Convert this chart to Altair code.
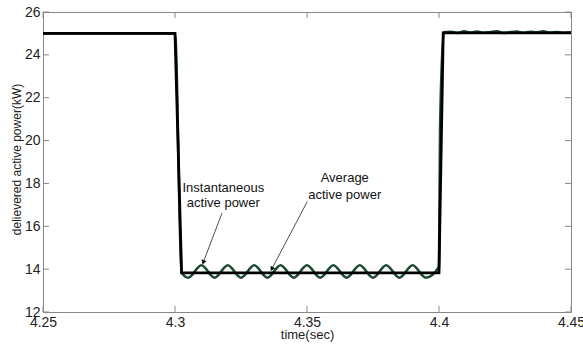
import altair as alt
import pandas as pd

# x/y axis tick values
x_ticks = [4.25, 4.30, 4.35, 4.40, 4.45]
y_ticks = [12, 14, 16, 18, 20, 22, 24, 26]

# Average active power (black)
avg_t = [4.25, 4.30, 4.3025, 4.40, 4.4016, 4.45]
avg_p = [25.0, 25.0, 13.83, 13.83, 25.03, 25.03]

# Instantaneous active power (dark green), read peak/trough points
inst_t = [4.25, 4.30, 4.3025, 4.305, 4.31, 4.315, 4.32, 4.325, 4.33, 4.335, 4.34,
          4.345, 4.35, 4.355, 4.36, 4.365, 4.37, 4.375, 4.38, 4.385, 4.39, 4.395,
          4.40, 4.4004, 4.4018, 4.4045, 4.407, 4.4095, 4.412, 4.4145, 4.417, 4.4195,
          4.422, 4.4245, 4.427, 4.4295, 4.432, 4.4345, 4.437, 4.4395, 4.442, 4.4445,
          4.447, 4.45]
inst_p = [25.0, 25.0, 13.85, 13.60, 14.18, 13.60, 14.18, 13.60, 14.18, 13.60, 14.18,
          13.60, 14.18, 13.60, 14.18, 13.60, 14.18, 13.60, 14.18, 13.60, 14.18, 13.60,
          14.12, 20.5, 25.05, 25.08, 25.02, 25.10, 25.04, 25.09, 25.03, 25.07,
          25.10, 25.02, 25.06, 25.09, 25.03, 25.08, 25.05, 25.10, 25.04, 25.07,
          25.03, 25.05]

# annotation texts
ann_text = ["Instantaneous", "active power", "Average", "active power"]
ann_t = [4.3183, 4.3183, 4.3643, 4.3643]
ann_p = [17.60, 16.90, 18.05, 17.27]

# annotation arrows (start -> end)
arr1_t = [4.3178, 4.3108]
arr1_p = [16.61, 14.35]
arr2_t = [4.3501, 4.3368]
arr2_p = [17.15, 14.04]

W, H = 528, 300
FONT = "Liberation Sans"
xs = alt.Scale(domain=[4.25, 4.45], nice=False, zero=False)
ys = alt.Scale(domain=[12, 26], nice=False, zero=False)

inst_df = pd.DataFrame({"t": inst_t, "p": inst_p})
avg_df = pd.DataFrame({"t": avg_t, "p": avg_p})

x_axis = alt.Axis(values=x_ticks, format="~g", title="time(sec)", ticks=False, domain=False,
                  grid=False, labelFont=FONT, labelFontSize=14, labelColor="#222",
                  labelFlush=False, labelOverlap=False, labelPadding=3,
                  titleFont=FONT, titleFontSize=13, titleFontWeight="normal", titleColor="#222",
                  titleBaseline="alphabetic", titleY=26)
y_axis = alt.Axis(values=y_ticks, format="d", title="delievered active power(kW)", ticks=False,
                  domain=False, grid=False, labelFont=FONT, labelFontSize=14, labelColor="#222",
                  labelFlush=False, labelOverlap=False, labelPadding=3,
                  titleFont=FONT, titleFontSize=12, titleFontWeight="normal", titleColor="#222",
                  titleX=-20, titleY=147)


def X(f):
    return alt.X(f, type="quantitative", scale=xs, axis=x_axis)


def Y(f):
    return alt.Y(f, type="quantitative", scale=ys, axis=y_axis)


inst = alt.Chart(inst_df).mark_line(color="#1e4a34", strokeWidth=2.6, interpolate="monotone").encode(
    x=X("t"), y=Y("p"))
avg = alt.Chart(avg_df).mark_line(color="black", strokeWidth=2.8).encode(
    x=X("t"), y=Y("p"))

xt_df = pd.DataFrame({"v": x_ticks})
yt_df = pd.DataFrame({"v": y_ticks})
tick_color = "#888"
xb = alt.Chart(xt_df).mark_rule(color=tick_color, strokeWidth=1).encode(
    x=X("v"), y=alt.value(H), y2=alt.value(H - 6))
xtop = alt.Chart(xt_df).mark_rule(color=tick_color, strokeWidth=1).encode(
    x=X("v"), y=alt.value(0), y2=alt.value(6))
yl = alt.Chart(yt_df).mark_rule(color=tick_color, strokeWidth=1).encode(
    y=Y("v"), x=alt.value(0), x2=alt.value(6))
yr = alt.Chart(yt_df).mark_rule(color=tick_color, strokeWidth=1).encode(
    y=Y("v"), x=alt.value(W), x2=alt.value(W - 6))

ann_df = pd.DataFrame({"text": ann_text, "t": ann_t, "p": ann_p})
texts = alt.Chart(ann_df).mark_text(font=FONT, fontSize=13, color="#111", align="center",
                                    baseline="alphabetic").encode(
    x=X("t"), y=Y("p"), text="text:N")


def arrow(ts, ps, ang):
    df = pd.DataFrame({"t": [ts[0]], "p": [ps[0]], "t2": [ts[1]], "p2": [ps[1]]})
    line = alt.Chart(df).mark_rule(color="#222", strokeWidth=0.8).encode(
        x=X("t"), y=Y("p"), x2="t2:Q", y2="p2:Q")
    head = alt.Chart(df).mark_point(shape="triangle", filled=True, color="#111", size=28,
                                    opacity=1, angle=ang).encode(
        x=X("t2"), y=Y("p2"))
    return line + head


chart = alt.layer(
    inst, avg, xb, xtop, yl, yr, texts,
    arrow(arr1_t, arr1_p, 201), arrow(arr2_t, arr2_p, 208)
).properties(
    width=W, height=H,
    autosize=alt.AutoSizeParams(type="none"),
    padding={"left": 43, "top": 12, "right": 12, "bottom": 33},
    background="white",
).configure_view(stroke="#888", strokeWidth=1)

chart.save("out.html", embed_options={"renderer": "svg", "actions": False})
